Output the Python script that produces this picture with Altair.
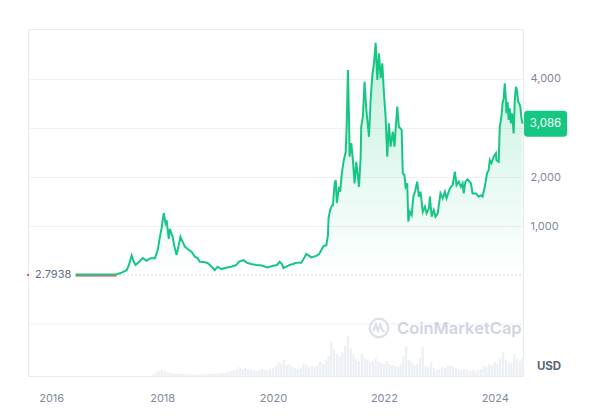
import altair as alt
import pandas as pd
import numpy as np

# ---- data ----
price_t = [
    2016.44, 2016.875, 2017.18, 2017.27, 2017.36, 2017.40, 2017.45, 2017.49, 2017.52, 2017.58,
    2017.65, 2017.72, 2017.79, 2017.87, 2017.92, 2017.96, 2017.99, 2018.03, 2018.06, 2018.08,
    2018.12, 2018.14, 2018.19, 2018.22, 2018.26, 2018.30, 2018.33, 2018.37, 2018.41, 2018.46,
    2018.53, 2018.59, 2018.64, 2018.68, 2018.75, 2018.82, 2018.88, 2018.95, 2019.00, 2019.07,
    2019.15, 2019.25, 2019.34, 2019.38, 2019.47, 2019.54, 2019.61, 2019.70, 2019.80, 2019.90,
    2019.99, 2020.07, 2020.12, 2020.16, 2020.19, 2020.25, 2020.30, 2020.36, 2020.42, 2020.51,
    2020.55, 2020.60, 2020.64, 2020.69, 2020.78, 2020.83, 2020.87, 2020.91, 2020.96, 2020.99,
    2021.00, 2021.03, 2021.06, 2021.08, 2021.11, 2021.13, 2021.15, 2021.19, 2021.21, 2021.24,
    2021.27, 2021.31, 2021.33, 2021.35, 2021.37, 2021.38, 2021.41, 2021.44, 2021.47, 2021.50,
    2021.55, 2021.58, 2021.59, 2021.62, 2021.65, 2021.68, 2021.73, 2021.76, 2021.79, 2021.82,
    2021.85, 2021.88, 2021.91, 2021.94, 2021.97, 2022.00, 2022.03, 2022.06, 2022.09, 2022.12,
    2022.16, 2022.19, 2022.24, 2022.27, 2022.32, 2022.34, 2022.37, 2022.39, 2022.42, 2022.44,
    2022.47, 2022.50, 2022.53, 2022.56, 2022.60, 2022.63, 2022.66, 2022.70, 2022.74, 2022.77,
    2022.81, 2022.83, 2022.86, 2022.90, 2022.93, 2022.97, 2023.02, 2023.06, 2023.10, 2023.13,
    2023.19, 2023.24, 2023.28, 2023.31, 2023.35, 2023.39, 2023.42, 2023.44, 2023.47, 2023.51,
    2023.57, 2023.60, 2023.66, 2023.71, 2023.75, 2023.78, 2023.82, 2023.86, 2023.89, 2023.91,
    2023.94, 2023.98, 2024.02, 2024.03, 2024.07, 2024.09, 2024.12, 2024.14, 2024.16, 2024.18,
    2024.20, 2024.21, 2024.23, 2024.25, 2024.27, 2024.29, 2024.31, 2024.34, 2024.36, 2024.38,
    2024.40, 2024.42, 2024.44, 2024.46, 2024.48, 2024.50,
]
price_v = [
    10, 12, 15, 50, 100, 200, 400, 265, 205, 265,
    345, 290, 345, 345, 510, 780, 960, 1270, 1060, 1120,
    735, 940, 780, 590, 410, 610, 780, 675, 580, 530,
    475, 375, 345, 270, 265, 245, 185, 100, 170, 122,
    150, 170, 205, 270, 305, 245, 225, 205, 195, 155,
    185, 205, 270, 225, 143, 175, 205, 225, 250, 250,
    325, 430, 400, 360, 390, 430, 510, 590, 610, 815,
    1160, 1330, 1410, 1430, 1870, 1940, 1470, 1800, 1700, 2075,
    2310, 2515, 3160, 4185, 3160, 2415, 2690, 2345, 1870, 2310,
    1800, 2415, 3025, 3230, 3945, 3400, 2820, 3570, 4080, 4320,
    4740, 3980, 4525, 4015, 4320, 3710, 3230, 2415, 3095, 2620,
    2925, 2620, 3435, 3025, 2960, 2075, 2040, 1800, 1870, 1090,
    1290, 1225, 1600, 1700, 1905, 1600, 1700, 1290, 1395, 1260,
    1360, 1600, 1190, 1325, 1190, 1260, 1665, 1565, 1700, 1565,
    1770, 1835, 2110, 1835, 1905, 1800, 1870, 1665, 1905, 1955,
    1870, 1665, 1665, 1600, 1630, 1600, 1800, 2075, 2140, 2345,
    2280, 2415, 2485, 2345, 2310, 3025, 3230, 3505, 3605, 3910,
    3570, 3300, 3535, 3165, 3400, 3095, 3300, 2890, 3570, 3840,
    3775, 3535, 3505, 3435, 3200, 3086,
]
assert len(price_t) == len(price_v)

# volume (billion USD, approx), every 0.05 year from 2017.85
vol_start = 2017.85
vol_v = [
    4, 8, 10, 12, 10, 8, 6, 6, 4, 4, 4, 4, 3, 3, 3, 3, 3, 3, 3, 4, 4, 4, 4, 5,
    6, 6, 7, 8, 10, 12, 14, 18, 14, 16, 14, 12, 12, 10, 12, 14, 12, 12, 14, 16,
    20, 28, 24, 32, 22, 24, 18, 16, 14, 16, 24, 22, 18, 20, 18, 22, 28, 24, 32, 40,
    68, 52, 44, 40, 48, 60, 80, 56, 44, 34, 30, 44, 36, 32, 28, 30, 36, 28, 26, 24,
    30, 24, 22, 20, 18, 24, 40, 60, 32, 26, 22, 24, 36, 58, 20, 18, 28, 16, 12, 14,
    18, 16, 20, 22, 18, 16, 14, 12, 14, 12, 10, 12, 10, 12, 14, 20, 18, 24, 22, 28,
    24, 36, 48, 32, 28, 26, 44, 34, 30, 36,
]

x_ticks = [2016, 2018, 2020, 2022, 2024]
y_ticks = [1000, 2000, 3000, 4000]
start_price = 2.7938
last_price = 3086
x_domain_years = [2015.582, 2024.508]
y_domain = [-2060, 5020]
panel_split = -1000


def dec_to_iso(t):
    y = int(np.floor(t))
    frac = t - y
    s = pd.Timestamp(year=y, month=1, day=1)
    e = pd.Timestamp(year=y + 1, month=1, day=1)
    return (s + (e - s) * frac).strftime("%Y-%m-%dT%H:%M:%S")


price_df = pd.DataFrame({"date": [dec_to_iso(t) for t in price_t], "price": price_v})
vol_df = pd.DataFrame({
    "date": [dec_to_iso(vol_start + 0.05 * i) for i in range(len(vol_v))],
    "volume": vol_v,
})
last_df = pd.DataFrame({"date": [dec_to_iso(price_t[-1])], "price": [last_price],
                        "label": [f"{last_price:,}"]})
start_df = pd.DataFrame({"date": [dec_to_iso(x_domain_years[0])], "price": [start_price],
                         "label": [f"{start_price}"]})
base_df = pd.DataFrame({"date": [dec_to_iso(price_t[0])], "date2": [dec_to_iso(x_domain_years[1])],
                        "price": [start_price]})
red_df = pd.DataFrame({"date": [dec_to_iso(price_t[0])], "date2": [dec_to_iso(price_t[2])],
                       "price": [start_price]})

GREEN = "#16c784"
GRID = "#eef0f3"
LABEL = "#808a9d"
FONT = "Inter"

x_scale = alt.Scale(domain=[dec_to_iso(x_domain_years[0]), dec_to_iso(x_domain_years[1])],
                    padding=0, nice=False)
x_axis = alt.Axis(values=[alt.DateTime(year=y, month=1, date=1) for y in x_ticks],
                  format="%Y", grid=False, domain=False, ticks=False, labelPadding=16,
                  labelColor=LABEL, labelFontSize=11, labelFont=FONT, title=None)
y_scale = alt.Scale(domain=y_domain, nice=False, zero=False)
y_axis = alt.Axis(orient="right", values=y_ticks, grid=True, gridColor=GRID,
                  labelExpr=f"datum.value == {y_ticks[2]} ? '' : format(datum.value, ',.0f')",
                  gridWidth=1, domain=False, ticks=False, labelPadding=7, labelColor=LABEL,
                  labelFontSize=11, labelFont=FONT, title=None)


def X(field="date"):
    return alt.X(f"{field}:T", scale=x_scale, axis=x_axis)


def Y(field="price"):
    return alt.Y(f"{field}:Q", scale=y_scale, axis=y_axis)


gradient = alt.Gradient(
    gradient="linear", x1=0, x2=0, y1=0, y2=1,
    stops=[alt.GradientStop(color="rgba(22,199,132,0.26)", offset=0),
           alt.GradientStop(color="rgba(22,199,132,0.10)", offset=0.6),
           alt.GradientStop(color="rgba(22,199,132,0.0)", offset=1)],
)

split_rule = alt.Chart(pd.DataFrame({"price": [panel_split]})).mark_rule(
    color=GRID, strokeWidth=1).encode(y=Y())

area = alt.Chart(price_df).mark_area(color=gradient, interpolate="linear").encode(
    x=X(), y=Y(), y2=alt.Y2(datum=0))

base_rule = alt.Chart(base_df).mark_rule(color="#a6b0c3", strokeDash=[1, 3], strokeWidth=1).encode(
    x=X(), x2="date2:T", y=Y())

red_rule = alt.Chart(red_df).mark_rule(color="#ea3943", strokeWidth=1.2, yOffset=1).encode(
    x=X(), x2="date2:T", y=Y())

line = alt.Chart(price_df).mark_line(color=GREEN, strokeWidth=2, interpolate="linear").encode(
    x=X(), y=Y())

start_text = alt.Chart(start_df).mark_text(align="left", baseline="middle", dx=7, font=FONT,
                                           fontSize=11, color="#616e85").encode(
    x=X(), y=Y(), text="label:N")

start_dot = alt.Chart(start_df).mark_point(filled=True, size=6, color="#ea3943", opacity=0.8).encode(
    x=X(), y=Y())

last_box = alt.Chart(last_df).mark_rect(width=43, height=26, cornerRadius=3, color=GREEN,
                                        xOffset=23).encode(x=X(), y=Y())
last_text = alt.Chart(last_df).mark_text(align="center", baseline="middle", dx=23, dy=0.5,
                                         font=FONT, fontSize=11.5, color="white").encode(
    x=X(), y=Y(), text="label:N")

price_layers = alt.layer(split_rule, area, base_rule, red_rule, line, start_text, start_dot,
                         last_box, last_text)

vol = alt.Chart(vol_df).mark_bar(color="#edf0f4", width=2.3).encode(
    x=alt.X("date:T", scale=x_scale, axis=x_axis),
    y=alt.Y("volume:Q", scale=alt.Scale(domain=[0, 694], nice=False), axis=None),
)

# watermark & unit label (decoration)
wm_circle = alt.Chart(pd.DataFrame({"a": [0]})).mark_point(
    shape="circle", size=340, filled=False, color="#cfd5e1", strokeWidth=2.4).encode(
    x=alt.value(351), y=alt.value(299))
wm_wave = alt.Chart(pd.DataFrame({"a": [0]})).mark_point(
    shape="M-0.6,0.35 L-0.35,-0.35 L-0.1,0.3 L0.15,-0.35 L0.35,0.2 Q0.45,0.45 0.6,0.25",
    size=340, filled=False, color="#cfd5e1", strokeWidth=2.2).encode(
    x=alt.value(351), y=alt.value(299))
wm_text = alt.Chart(pd.DataFrame({"t": ["CoinMarketCap"]})).mark_text(
    align="left", baseline="middle", font=FONT, fontSize=16.5, fontWeight=600,
    color="#cfd5e1").encode(x=alt.value(369), y=alt.value(299.5), text="t:N")
usd_text = alt.Chart(pd.DataFrame({"t": ["USD"]})).mark_text(
    align="center", baseline="middle", font=FONT, fontSize=11.5, fontWeight="bold",
    color="#58667e").encode(x=alt.value(521), y=alt.value(338), text="t:N")

chart = alt.layer(vol, price_layers, wm_circle, wm_wave, wm_text, usd_text).resolve_scale(
    y="independent").properties(
    width=495, height=347,
    autosize=alt.AutoSizeParams(type="none"),
    padding={"left": 28, "top": 29, "right": 86, "bottom": 43},
    background="white",
).configure_view(stroke="#e8eaee", strokeWidth=1)

chart.save("out.html", embed_options={"renderer": "svg", "actions": False})
